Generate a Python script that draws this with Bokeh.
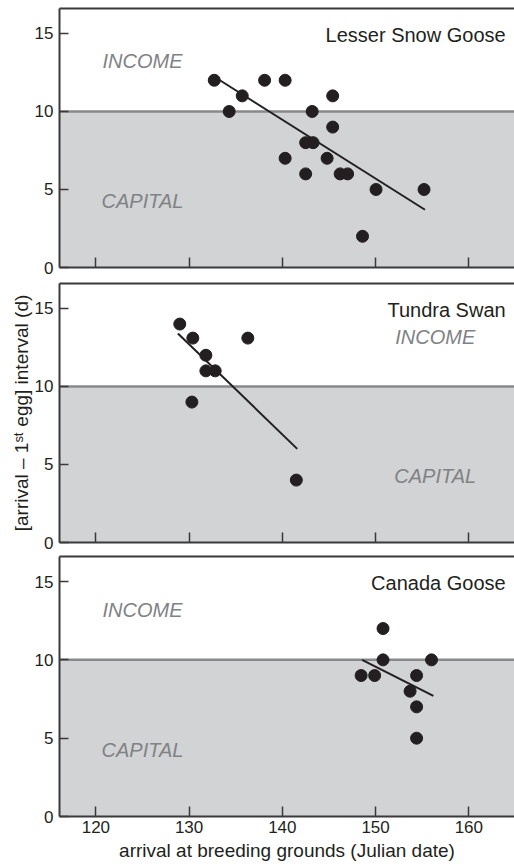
from bokeh.plotting import figure
from bokeh.models import Range1d, FixedTicker, LinearAxis, BoxAnnotation, Span
from bokeh.layouts import column
from bokeh.core.properties import value
from bokeh.embed import file_html
from bokeh.resources import INLINE

# ---- data ----
x_ticks = [120, 130, 140, 150, 160]
y_ticks = [0, 5, 10, 15]
threshold = 10

species = ["Lesser Snow Goose", "Tundra Swan", "Canada Goose"]

snow_x = [132.7, 134.3, 135.7, 138.1, 140.3, 140.3, 142.5, 142.5, 143.3, 143.2,
          144.8, 145.4, 145.4, 146.2, 147.0, 148.6, 150.05, 155.2]
snow_y = [12, 10, 11, 12, 12, 7, 6, 8, 8, 10, 7, 11, 9, 6, 6, 2, 5, 5]
snow_fit_x = [133.3, 155.3]
snow_fit_y = [12.0, 3.7]

swan_x = [129.0, 130.4, 136.3, 131.8, 131.8, 132.8, 130.3, 141.5]
swan_y = [14, 13.1, 13.1, 12, 11, 11, 9, 4]
swan_fit_x = [128.8, 141.6]
swan_fit_y = [13.4, 6.0]

canada_x = [148.45, 149.9, 150.8, 150.8, 153.7, 154.4, 154.4, 154.4, 156.0]
canada_y = [9, 9, 12, 10, 8, 9, 7, 5, 10]
canada_fit_x = [148.55, 156.2]
canada_fit_y = [10, 7.7]

income_label = "INCOME"
capital_label = "CAPITAL"
x_label = "arrival at breeding grounds (Julian date)"
y_label = "[arrival \u2013 1\u02e2\u1d57 egg] interval (d)"

# ---- style ----
FONT = "Liberation Sans"
DARK = "#231f20"
AXIS = "#3a3a3a"
GRAY_FILL = "#d1d3d4"
GRAY_LINE = "#88898c"
GRAY_TEXT = "#808285"
X_RANGE = (116.1, 164.9)
Y_RANGE = (0, 16.6)


def make_panel(xs, ys, fx, fy, name, band_x, income_y, capital_y,
               height, top, bottom, show_x, ylab):
    p = figure(width=514, height=height,
               x_range=Range1d(*X_RANGE), y_range=Range1d(*Y_RANGE),
               output_backend="svg", toolbar_location=None,
               min_border_left=59, min_border_right=0,
               min_border_top=top, min_border_bottom=bottom,
               outline_line_color=None, background_fill_color="white",
               border_fill_color="white")
    p.xgrid.visible = False
    p.ygrid.visible = False

    p.add_layout(BoxAnnotation(top=threshold, fill_color=GRAY_FILL, fill_alpha=1,
                               line_color=None, level="underlay"))
    p.add_layout(Span(location=threshold, dimension="width", line_color=GRAY_LINE,
                      line_width=2.5, level="underlay"))

    # axes
    for ax in (p.xaxis[0], p.yaxis[0]):
        ax.axis_line_color = AXIS
        ax.axis_line_width = 2
        ax.major_tick_line_color = AXIS
        ax.major_tick_line_width = 1.5
        ax.minor_tick_line_color = None
        ax.major_tick_out = 0
        ax.major_label_text_font = FONT
        ax.major_label_text_font_size = "17px"
        ax.major_label_text_color = DARK
        ax.axis_label_text_font = FONT
        ax.axis_label_text_font_style = "normal"
        ax.axis_label_text_font_size = "19px"
        ax.axis_label_text_color = DARK
    p.xaxis.ticker = FixedTicker(ticks=x_ticks)
    p.yaxis.ticker = FixedTicker(ticks=y_ticks)
    p.xaxis.major_tick_in = 10
    p.yaxis.major_tick_in = 9
    p.yaxis.major_label_standoff = 6
    if show_x:
        p.xaxis.major_label_standoff = 4
        p.xaxis.axis_label = x_label
        p.xaxis.axis_label_standoff = 4
    else:
        p.xaxis.major_label_text_font_size = "1px"
        p.xaxis.major_label_text_color = None
        p.xaxis.major_label_standoff = 0
    if ylab:
        p.yaxis.axis_label = ylab
        p.yaxis.axis_label_standoff = 0

    topax = LinearAxis(ticker=FixedTicker(ticks=[]), major_tick_line_color=None,
                       minor_tick_line_color=None, major_label_text_font_size="1px",
                       major_label_text_color=None,
                       major_label_standoff=0, major_tick_out=0, major_tick_in=0,
                       axis_line_color=AXIS, axis_line_width=2)
    p.add_layout(topax, "above")

    # data
    p.line(fx, fy, line_color=DARK, line_width=2)
    p.scatter(xs, ys, size=12, fill_color=DARK, line_color=DARK)

    # labels
    p.text(x=[163.95], y=[14.9], text=[name], text_font=value(FONT),
           text_font_size="20px", text_align="right", text_baseline="alphabetic",
           text_color=DARK)
    p.text(x=[band_x, band_x], y=[income_y, capital_y], text=[income_label, capital_label],
           text_font=value(FONT), text_font_size="20px", text_font_style="italic",
           text_align="center", text_baseline="alphabetic", text_color=GRAY_TEXT)
    return p


p1 = make_panel(snow_x, snow_y, snow_fit_x, snow_fit_y, species[0], 125.0, 13.25, 4.27,
                height=276, top=8, bottom=9, show_x=False, ylab=None)
p2 = make_panel(swan_x, swan_y, swan_fit_x, swan_fit_y, species[1], 156.4, 13.2, 4.26,
                height=275, top=7, bottom=9, show_x=False, ylab=y_label)
p3 = make_panel(canada_x, canada_y, canada_fit_x, canada_fit_y, species[2], 125.0, 13.2, 4.26,
                height=317, top=5, bottom=52, show_x=True, ylab=None)

layout = column(p1, p2, p3, spacing=0)
open("out.html", "w").write(file_html(layout, INLINE))
